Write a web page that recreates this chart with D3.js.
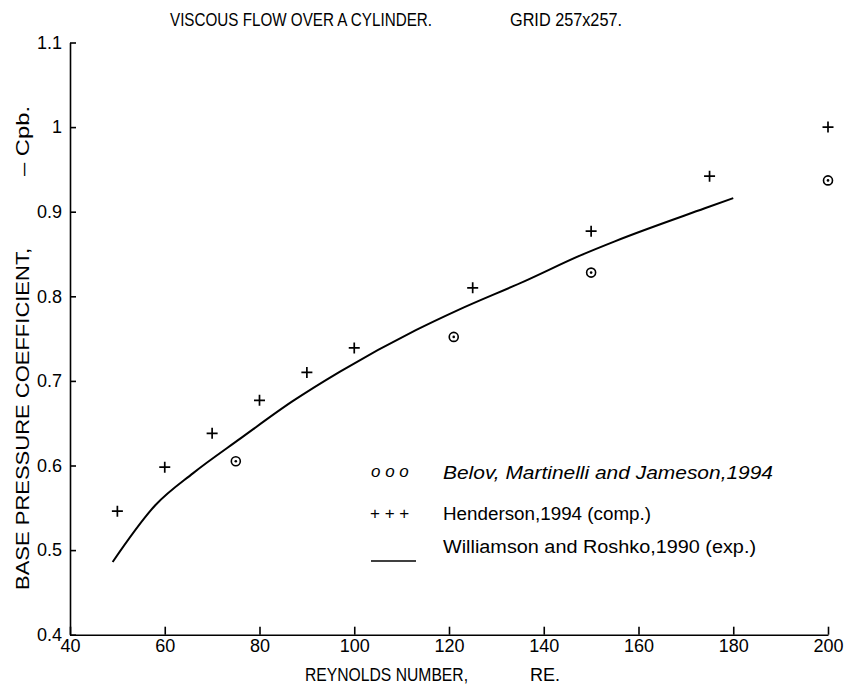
<meta charset="utf-8">
<style>
body { margin: 0; background: #fff; }
text { font-family: "Liberation Sans", Arial, sans-serif; fill: #000; }
.axis path, .axis line { stroke: #000; stroke-width: 1.6; fill: none; }
.axis text { font-size: 18px; }
</style>
<body>
<div id="chart"></div>
<script src="https://cdn.jsdelivr.net/npm/d3@7"></script>
<script>
// Belov, Martinelli and Jameson 1994 (circles)
var belovRe = [75, 121, 150, 200];
var belovCp = [0.605, 0.752, 0.828, 0.937];

// Henderson 1994 (plus signs)
var hendRe = [50, 60, 70, 80, 90, 100, 125, 150, 175, 200];
var hendCp = [0.546, 0.598, 0.638, 0.677, 0.710, 0.739, 0.810, 0.877, 0.942, 1.0];

// Williamson and Roshko 1990 (solid curve)
var wrRe = [49, 58, 66, 76, 87, 97, 113, 122, 136, 148, 155, 174, 180];
var wrCp = [0.486, 0.553, 0.591, 0.632, 0.676, 0.711, 0.760, 0.784, 0.818, 0.849, 0.865, 0.904, 0.916];

var xTicks = [40, 60, 80, 100, 120, 140, 160, 180, 200];
var yTicks = [0.4, 0.5, 0.6, 0.7, 0.8, 0.9, 1.0, 1.1];

var legendSym = ["o o o", "+ + +", ""];
var legendText = ["Belov, Martinelli and Jameson,1994", "Henderson,1994 (comp.)", "Williamson and Roshko,1990 (exp.)"];

var W = 846, H = 688;
var x = d3.scaleLinear().domain([40, 200]).range([70, 828]);
var y = d3.scaleLinear().domain([0.4, 1.1]).range([634.7, 42.5]);

var svg = d3.select("#chart").append("svg")
    .attr("width", W).attr("height", H);

// titles
svg.append("text").attr("x", 170).attr("y", 26)
    .attr("textLength", 262).attr("lengthAdjust", "spacingAndGlyphs")
    .style("font-size", "19px").text("VISCOUS FLOW OVER A CYLINDER.");
svg.append("text").attr("x", 510).attr("y", 26)
    .attr("textLength", 112).attr("lengthAdjust", "spacingAndGlyphs")
    .style("font-size", "19px").text("GRID 257x257.");

// axes
svg.append("g").attr("class", "axis")
    .attr("transform", "translate(0," + y(0.4) + ")")
    .call(d3.axisBottom(x).tickValues(xTicks).tickSizeInner(-8).tickSizeOuter(0).tickPadding(5)
        .tickFormat(d3.format("d")));

svg.append("g").attr("class", "axis")
    .attr("transform", "translate(" + x(40) + ",0)")
    .call(d3.axisLeft(y).tickValues(yTicks).tickSizeInner(-6).tickSizeOuter(0).tickPadding(8)
        .tickFormat(function(d) { return String(+d.toFixed(1)); }));

// axis labels
svg.append("text").attr("x", 305).attr("y", 681)
    .attr("textLength", 163).attr("lengthAdjust", "spacingAndGlyphs")
    .style("font-size", "18px").text("REYNOLDS NUMBER,");
svg.append("text").attr("x", 530).attr("y", 681)
    .attr("textLength", 30).attr("lengthAdjust", "spacingAndGlyphs")
    .style("font-size", "18px").text("RE.");

svg.append("text").attr("transform", "translate(29,590) rotate(-90)")
    .attr("textLength", 342).attr("lengthAdjust", "spacingAndGlyphs")
    .style("font-size", "18px").text("BASE PRESSURE COEFFICIENT,");
svg.append("text").attr("transform", "translate(29,176) rotate(-90)")
    .attr("textLength", 70).attr("lengthAdjust", "spacingAndGlyphs")
    .style("font-size", "18px").text("\u2013 Cpb.");

// curve
var line = d3.line()
    .x(function(d, i) { return x(wrRe[i]); })
    .y(function(d, i) { return y(wrCp[i]); })
    .curve(d3.curveMonotoneX);
svg.append("path").datum(wrRe)
    .attr("d", line)
    .style("fill", "none").style("stroke", "#000").style("stroke-width", 2);

// plus markers
var plus = svg.append("g").selectAll("g").data(hendRe).enter().append("g")
    .attr("transform", function(d, i) { return "translate(" + x(d) + "," + y(hendCp[i]) + ")"; });
plus.append("path").attr("d", "M-5.5,0H5.5M0,-5.5V5.5")
    .style("stroke", "#000").style("stroke-width", 1.7);

// circle markers
var circ = svg.append("g").selectAll("g").data(belovRe).enter().append("g")
    .attr("transform", function(d, i) { return "translate(" + x(d) + "," + y(belovCp[i]) + ")"; });
circ.append("circle").attr("r", 4.5)
    .style("fill", "none").style("stroke", "#000").style("stroke-width", 1.6);
circ.append("circle").attr("r", 1.3).style("fill", "#000");

// legend
var legY = [472, 513, 546];
svg.append("text").attr("x", 371).attr("y", legY[0] + 5)
    .style("font-size", "17px").style("font-style", "italic").text(legendSym[0]);
svg.append("text").attr("x", 370).attr("y", legY[1] + 6)
    .style("font-size", "17px").text(legendSym[1]);
svg.append("line").attr("x1", 371).attr("x2", 416).attr("y1", 561).attr("y2", 561)
    .style("stroke", "#000").style("stroke-width", 1.6);

var legLen = [330, 208, 313];
legendText.forEach(function(t, i) {
    svg.append("text").attr("x", 443).attr("y", legY[i] + 7)
        .attr("textLength", legLen[i]).attr("lengthAdjust", "spacingAndGlyphs")
        .style("font-size", "18px").style("font-style", i === 0 ? "italic" : "normal")
        .text(t);
});
</script>
</body>
